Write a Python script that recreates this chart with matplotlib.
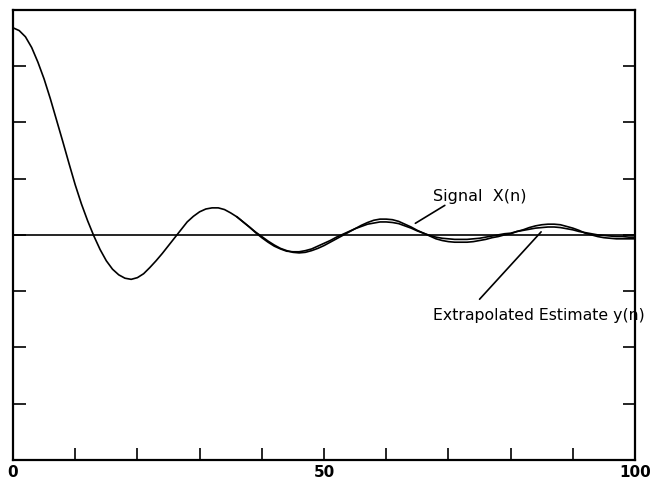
import matplotlib
matplotlib.use("Agg")
import matplotlib.pyplot as plt

# sample index n
n = list(range(0, 101))

# signal x(n) (one y tick = 1 unit)
signal = [3.68, 3.63, 3.52, 3.33, 3.07, 2.77, 2.42, 2.04, 1.66, 1.27,
          0.89, 0.55, 0.25, -0.02, -0.26, -0.46, -0.61, -0.71, -0.77, -0.79,
          -0.76, -0.69, -0.58, -0.46, -0.33, -0.19, -0.05, 0.09, 0.23, 0.33,
          0.41, 0.46, 0.48, 0.48, 0.45, 0.39, 0.32, 0.23, 0.14, 0.05,
          -0.03, -0.11, -0.18, -0.24, -0.28, -0.31, -0.32, -0.31, -0.28, -0.24,
          -0.19, -0.13, -0.07, -0.01, 0.05, 0.11, 0.17, 0.22, 0.26, 0.28,
          0.28, 0.27, 0.24, 0.19, 0.14, 0.08, 0.03, -0.02, -0.07, -0.10,
          -0.12, -0.13, -0.13, -0.13, -0.12, -0.10, -0.08, -0.05, -0.03, 0.00,
          0.02, 0.06, 0.09, 0.13, 0.16, 0.18, 0.19, 0.19, 0.18, 0.15,
          0.12, 0.08, 0.03, 0.00, -0.03, -0.05, -0.06, -0.07, -0.07, -0.07,
          -0.07]

# extrapolated estimate y(n), starts where it leaves the signal
n_est = list(range(36, 101))
estimate = [0.32, 0.23, 0.14, 0.04,
            -0.05, -0.13, -0.20, -0.25, -0.29, -0.30, -0.30, -0.28, -0.25, -0.20,
            -0.15, -0.10, -0.04, 0.01, 0.06, 0.11, 0.15, 0.19, 0.21, 0.23,
            0.23, 0.22, 0.20, 0.16, 0.12, 0.07, 0.03, -0.01, -0.04, -0.06,
            -0.07, -0.08, -0.08, -0.08, -0.07, -0.06, -0.04, -0.02, 0.00, 0.02,
            0.03, 0.06, 0.08, 0.10, 0.12, 0.13, 0.14, 0.14, 0.13, 0.11,
            0.09, 0.06, 0.04, 0.02, 0.00, -0.01, -0.02, -0.03, -0.03, -0.04,
            -0.04]

x_ticks = [0, 50, 100]
x_ticklabels = ["0", "50", "100"]

fig = plt.figure(figsize=(6.5, 4.81), dpi=100)
ax = fig.add_axes([0.02, 0.0416, 0.957, 0.936])

ax.plot(n, signal, color="black", lw=1.2)
ax.plot(n_est, estimate, color="black", lw=1.2)
ax.axhline(0, color="black", lw=1.2)

ax.set_xlim(0, 100)
ax.set_ylim(-4, 4)

# ticks drawn inside, labels only on 0/50/100
ax.set_xticks(range(10, 100, 10))
ax.set_xticklabels([])
ax.set_yticks(range(-3, 4))
ax.set_yticklabels([])
ax.tick_params(axis="both", direction="in", length=9, width=1.2)
ax.tick_params(axis="y", left=True, right=True)
for s in ax.spines.values():
    s.set_linewidth(1.6)

for xv, lab in zip(x_ticks, x_ticklabels):
    ax.text(xv, -4.08, lab, ha="center", va="top", fontsize=11,
            fontweight="bold")

# annotations with leader lines
ax.annotate("", xy=(64.3, 0.18), xytext=(69.8, 0.55),
            arrowprops=dict(arrowstyle="-", color="black", lw=1.2))
ax.text(67.5, 0.70, "Signal  X(n)", ha="left", va="center", fontsize=11.5)
ax.annotate("", xy=(85.2, 0.09), xytext=(74.7, -1.18),
            arrowprops=dict(arrowstyle="-", color="black", lw=1.2))
ax.text(67.5, -1.41, "Extrapolated Estimate y(n)", ha="left", va="center",
        fontsize=11.3, clip_on=False)

fig.savefig("out.png", dpi=100)
